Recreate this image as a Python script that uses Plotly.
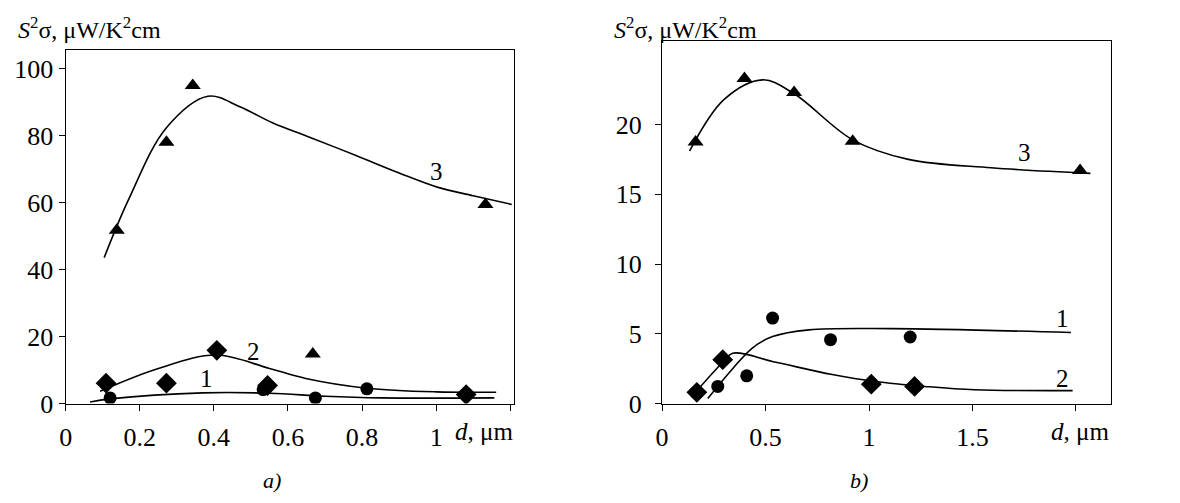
import plotly.graph_objects as go

# ---------- Panel a) ----------
a_tri_x = [0.138, 0.272, 0.343, 0.667, 1.133]
a_tri_y = [51.8, 78.1, 95.0, 14.8, 59.5]
a_dia_x = [0.109, 0.272, 0.408, 0.545, 1.081]
a_dia_y = [6.1, 6.1, 15.9, 5.4, 2.7]
a_cir_x = [0.120, 0.533, 0.674, 0.813]
a_cir_y = [1.7, 4.2, 1.7, 4.4]

a_c3_x = [0.104, 0.17, 0.272, 0.384, 0.47, 0.558, 0.66, 0.782, 0.9, 1.005, 1.1, 1.204]
a_c3_y = [43.6, 61.0, 82.4, 91.8, 88.7, 83.9, 79.5, 74.2, 68.9, 64.6, 62.1, 59.5]
a_c2_x = [0.093, 0.25, 0.406, 0.55, 0.648, 0.813, 1.0, 1.162]
a_c2_y = [3.7, 10.5, 14.5, 10.5, 7.5, 4.6, 3.5, 3.4]
a_c1_x = [0.066, 0.12, 0.37, 0.55, 0.70, 0.85, 1.157]
a_c1_y = [0.5, 1.4, 3.2, 3.1, 2.2, 1.7, 1.7]

# ---------- Panel b) ----------
b_tri_x = [0.162, 0.398, 0.638, 0.921, 2.02]
b_tri_y = [18.75, 23.3, 22.3, 18.8, 16.7]
b_cir_x = [0.269, 0.409, 0.534, 0.814, 1.199]
b_cir_y = [1.23, 1.99, 6.13, 4.58, 4.77]
b_dia_x = [0.168, 0.293, 1.011, 1.22]
b_dia_y = [0.81, 3.15, 1.39, 1.23]

b_c3_x = [0.133, 0.30, 0.486, 0.638, 0.921, 1.19, 1.59, 2.07]
b_c3_y = [18.1, 21.8, 23.2, 22.2, 18.9, 17.5, 16.9, 16.5]
b_c1_x = [0.221, 0.341, 0.4375, 0.534, 0.71, 1.11, 1.976]
b_c1_y = [0.37, 2.5, 4.0, 4.8, 5.28, 5.37, 5.09]
b_c2_x = [0.141, 0.293, 0.341, 0.55, 0.822, 1.03, 1.27, 1.51, 1.984]
b_c2_y = [0.46, 2.96, 3.61, 2.96, 2.08, 1.58, 1.23, 0.99, 0.93]

a_xticks = [0, 0.2, 0.4, 0.6, 0.8, 1, 1.2]
a_xticklabels = ["0", "0.2", "0.4", "0.6", "0.8", "1", ""]
a_yticks = [0, 20, 40, 60, 80, 100]
b_xticks = [0, 0.5, 1, 1.5, 2]
b_xticklabels = ["0", "0.5", "1", "1.5", ""]
b_yticks = [0, 5, 10, 15, 20]

FONT = "Liberation Serif, Times New Roman, serif"
W, H = 1180, 503

def px_x(p):
    return p / W

def px_y(p):
    return (H - p) / H

fig = go.Figure()

def line(x, y, ax):
    fig.add_trace(go.Scatter(x=x, y=y, mode="lines", line=dict(color="black", width=1.6, shape="spline", smoothing=1.0),
                             xaxis=ax[0], yaxis=ax[1], showlegend=False, hoverinfo="skip"))

def marks(x, y, sym, size, ax):
    fig.add_trace(go.Scatter(x=x, y=y, mode="markers", marker=dict(symbol=sym, size=size, color="black"),
                             xaxis=ax[0], yaxis=ax[1], showlegend=False))

A = ("x", "y")
B = ("x2", "y2")
line(a_c3_x, a_c3_y, A)
line(a_c2_x, a_c2_y, A)
line(a_c1_x, a_c1_y, A)
marks(a_tri_x, a_tri_y, "triangle-up", 14, A)
marks(a_dia_x, a_dia_y, "diamond", 16, A)
marks(a_cir_x, a_cir_y, "circle", 13, A)

line(b_c3_x, b_c3_y, B)
line(b_c1_x, b_c1_y, B)
line(b_c2_x, b_c2_y, B)
marks(b_tri_x, b_tri_y, "triangle-up", 14, B)
marks(b_dia_x, b_dia_y, "diamond", 16, B)
marks(b_cir_x, b_cir_y, "circle", 13, B)

axis_common = dict(showline=True, linecolor="black", linewidth=1.2, mirror=True, ticks="outside",
                   ticklen=6, tickcolor="black", tickwidth=1.2, showgrid=False, zeroline=False,
                   tickfont=dict(family=FONT, size=26, color="black"))

fig.update_layout(
    width=W, height=H, margin=dict(l=0, r=0, t=0, b=0),
    paper_bgcolor="white", plot_bgcolor="white",
    font=dict(family=FONT, size=25, color="black"),
    xaxis=dict(domain=[px_x(59), px_x(510)], range=[0, 1.21], tickvals=a_xticks, ticktext=a_xticklabels,
               anchor="y", ticklabelstandoff=4, **axis_common),
    yaxis=dict(domain=[px_y(416), px_y(52)], range=[0, 105.5], tickvals=a_yticks, anchor="x",
               **axis_common),
    xaxis2=dict(domain=[px_x(659), px_x(1110.7)], range=[0, 2.17], tickvals=b_xticks, ticktext=b_xticklabels,
                anchor="y2", ticklabelstandoff=4, **axis_common),
    yaxis2=dict(domain=[px_y(416), px_y(42)], range=[0, 26], tickvals=b_yticks, anchor="x2",
                ticklabelstandoff=8, **axis_common),
)

ann = []
ytitle = "<i>S</i><sup>2</sup>σ, μW/K<sup>2</sup>cm"
ann.append(dict(text=ytitle, x=px_x(9), y=px_y(29), xref="paper", yref="paper", xanchor="left",
                yanchor="middle", showarrow=False, font=dict(family=FONT, size=24)))
ann.append(dict(text=ytitle, x=px_x(609), y=px_y(29), xref="paper", yref="paper", xanchor="left",
                yanchor="middle", showarrow=False, font=dict(family=FONT, size=24)))
ann.append(dict(text="<i>d</i>, μm", x=px_x(511), y=px_y(445), xref="paper", yref="paper", xanchor="right",
                yanchor="middle", showarrow=False, font=dict(family=FONT, size=25)))
ann.append(dict(text="<i>d</i>, μm", x=px_x(1111), y=px_y(445), xref="paper", yref="paper", xanchor="right",
                yanchor="middle", showarrow=False, font=dict(family=FONT, size=25)))
ann.append(dict(text="<i>a)</i>", x=px_x(267), y=px_y(495), xref="paper", yref="paper", xanchor="center",
                yanchor="middle", showarrow=False, font=dict(family=FONT, size=22)))
ann.append(dict(text="<i>b)</i>", x=px_x(857), y=px_y(495), xref="paper", yref="paper", xanchor="center",
                yanchor="middle", showarrow=False, font=dict(family=FONT, size=22)))

# curve labels
for t, x, y, xr, yr in [("3", 1.0, 69.4, "x", "y"), ("2", 0.508, 15.7, "x", "y"), ("1", 0.379, 7.5, "x", "y"),
                         ("3", 1.75, 18.0, "x2", "y2"), ("1", 1.936, 6.1, "x2", "y2"), ("2", 1.936, 1.8, "x2", "y2")]:
    ann.append(dict(text=t, x=x, y=y, xref=xr, yref=yr, showarrow=False, xanchor="center", yanchor="middle",
                    font=dict(family=FONT, size=25)))

fig.update_layout(annotations=ann)
fig.write_html("out.html", config={"displayModeBar": False},
               post_script="document.body.style.margin='0';document.body.style.overflow='hidden';")
